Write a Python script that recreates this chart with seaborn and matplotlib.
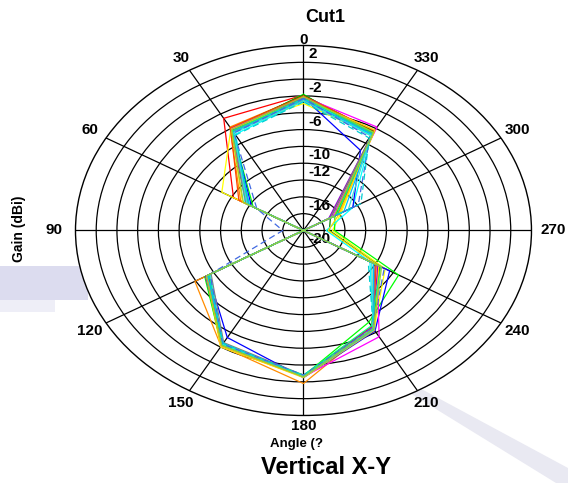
import numpy as np
import pandas as pd
import matplotlib
matplotlib.use("Agg")
import matplotlib.pyplot as plt
from matplotlib.patches import Rectangle, Polygon
from matplotlib.transforms import offset_copy
import seaborn as sns

###############################################################
# data (gain in dBi, one list per trace)
angles_deg = [0, 30, 60, 90, 120, 150, 180, 210, 240, 270, 300, 330]

trace_names = ['t01', 't02', 't03', 't04', 't05', 't06', 't07', 't08', 't09',
               't10', 't11', 't12', 't13', 't14', 't15', 't16', 't17', 't18']

t01 = [-3.9, -4.6, -12.2, -20, -9.6, -4.3, -2.7, -6.8, -12.0, -20, -16.5, -6.6]
t02 = [-4.0, -5.8, -13.0, -20, -7.9, -4.1, -1.8, -6.7, -12.2, -20, -16.0, -6.5]
t03 = [-4.9, -6.0, -10.9, -20, -9.2, -4.0, -2.6, -6.4, -10.9, -17.2, -15.8, -6.8]
t04 = [-3.8, -6.2, -14.4, -20, -9.0, -4.2, -2.7, -7.4, -9.4, -17.0, -16.5, -6.9]
t05 = [-3.9, -6.0, -13.6, -20, -9.3, -4.2, -2.6, -6.6, -11.5, -17.5, -17.0, -6.4]
t06 = [-4.6, -6.8, -13.5, -20, -9.5, -4.3, -2.7, -6.5, -12.6, -17.8, -14.5, -6.9]
t07 = [-4.2, -6.3, -14.2, -20, -9.4, -5.3, -2.5, -6.2, -10.4, -20, -14.5, -9.0]
t08 = [-4.1, -6.0, -13.7, -20, -9.3, -4.1, -2.6, -5.4, -11.8, -20, -16.8, -5.8]
t09 = [-4.2, -6.2, -13.9, -20, -9.1, -4.4, -2.7, -6.7, -11.7, -20, -17.2, -6.6]
t10 = [-4.5, -6.4, -13.6, -20, -9.7, -4.6, -2.8, -6.5, -12.0, -20, -17.0, -6.7]
t11 = [-4.0, -5.9, -12.8, -20, -9.4, -4.2, -2.6, -6.6, -11.9, -20, -16.2, -6.3]
t12 = [-4.4, -6.1, -13.2, -20, -9.2, -4.1, -2.5, -6.3, -11.6, -17.6, -16.0, -6.2]
t13 = [-4.3, -6.3, -13.9, -20, -9.5, -4.3, -2.8, -6.9, -11.4, -20, -16.3, -6.6]
t14 = [-4.4, -6.5, -14.0, -20, -9.3, -4.5, -2.6, -6.4, -12.2, -20, -15.5, -6.8]
t15 = [-4.6, -6.6, -13.7, -20, -9.6, -4.4, -2.7, -6.6, -12.4, -20, -15.0, -7.0]
t16 = [-4.3, -6.6, -14.8, -18.0, -9.6, -4.4, -2.8, -6.6, -11.0, -20, -13.9, -7.2]
t17 = [-4.7, -6.9, -13.9, -20, -9.4, -4.5, -2.7, -6.5, -12.8, -20, -13.6, -7.3]
t18 = [-4.1, -6.1, -13.3, -20, -9.2, -4.2, -2.6, -6.5, -11.3, -20, -16.6, -6.5]

trace_colors = ['red', 'darkorange', 'yellow', 'lime', 'green', 'cyan', 'blue',
                'magenta', 'darkviolet', 'gray', 'orangered', 'gold', 'springgreen',
                'deepskyblue', 'turquoise', 'royalblue', 'darkturquoise', 'yellowgreen']
dashed = ['t16', 't17']

r_ticks = [-20, -16, -12, -10, -6, -2, 2]
angle_labels = ['0', '30', '60', '90', '120', '150', '180', '210', '240', '270', '300', '330']

###############################################################
# long form table, each trace closed back at 360
traces = [t01, t02, t03, t04, t05, t06, t07, t08, t09,
          t10, t11, t12, t13, t14, t15, t16, t17, t18]
rows = []
for name, vals in zip(trace_names, traces):
    for a, v in zip(angles_deg + [360], vals + [vals[0]]):
        rows.append({'trace': name, 'theta': np.radians(a), 'gain': v})
df = pd.DataFrame(rows)

sns.set_style('white')
plt.rcParams['font.family'] = ['Liberation Sans', 'DejaVu Sans']
plt.rcParams['text.color'] = 'black'

fig = plt.figure(figsize=(5.68, 4.83), dpi=100)

# faint background streaks seen in the picture
fig.patches.append(Rectangle((0, 1 - 300 / 483), 88 / 568, 34 / 483, transform=fig.transFigure,
                             facecolor='#dcdcef', edgecolor='none', zorder=-5))
fig.patches.append(Rectangle((0, 1 - 312 / 483), 55 / 568, 12 / 483, transform=fig.transFigure,
                             facecolor='#eeeef7', edgecolor='none', zorder=-5))
fig.patches.append(Polygon([(405 / 568, 1 - 390 / 483), (414 / 568, 1 - 385 / 483),
                            (1.0, 1 - 468 / 483), (1.0, 0.0), (556 / 568, 0.0)],
                           closed=True, transform=fig.transFigure,
                           facecolor='#e9e9f2', edgecolor='none', zorder=-5))

ax = fig.add_axes([0.1329, 0.1398, 0.8028, 0.766], projection='polar')
ax.set_aspect('auto')
ax.set_facecolor('white')
ax.set_theta_zero_location('N')
ax.set_theta_direction(1)

sns.lineplot(data=df, x='theta', y='gain', hue='trace', style='trace',
             palette=dict(zip(trace_names, trace_colors)),
             dashes={n: ((5, 3) if n in dashed else '') for n in trace_names},
             estimator=None, sort=False, linewidth=0.9, legend=False, ax=ax, zorder=3)

ax.set_ylim(-20, 2)
ax.set_yticks(np.arange(-18, 2, 2))
ax.set_yticklabels([])
ax.set_xticks(np.radians(np.arange(0, 360, 30)))
ax.set_xticklabels([])
ax.grid(True, color='black', linewidth=0.9)
ax.spines['polar'].set_color('black')
ax.spines['polar'].set_linewidth(1.0)
ax.set_xlabel('')
ax.set_ylabel('')

# radial labels, just right of the 0 spoke and below their ring
lab_tr = offset_copy(ax.transData, fig=fig, x=5, y=-9, units='dots')
for r in r_ticks:
    ax.text(0, r, str(r), transform=lab_tr, ha='left', va='center', color='black',
            fontsize=11, fontweight='bold', zorder=2.5)

# angle labels outside the ellipse
label_r = {0: 1.03, 30: 1.077, 60: 1.083, 90: 1.094, 120: 1.083, 150: 1.077,
           180: 1.055, 210: 1.077, 240: 1.083, 270: 1.097, 300: 1.083, 330: 1.077}
for a, lbl in zip(angles_deg, angle_labels):
    ax.text(np.radians(a), -20 + 22 * label_r[a], lbl, ha='center', va='center', color='black',
            fontsize=11, fontweight='bold', clip_on=False)

fig.text(305 / 568, 1 - 17 / 483, 'Cut1', ha='left', va='center', fontsize=13, fontweight='bold')
fig.text(19 / 568, 1 - 229 / 483, 'Gain (dBi)', rotation=90, ha='center', va='center',
         fontsize=10, fontweight='bold')
fig.text(297 / 568, 1 - 444 / 483, 'Angle (?', ha='center', va='center', fontsize=9.5,
         fontweight='bold')
fig.text(326 / 568, 1 - 467 / 483, 'Vertical X-Y', ha='center', va='center', fontsize=17,
         fontweight='bold')

plt.savefig('out.png', dpi=100)
